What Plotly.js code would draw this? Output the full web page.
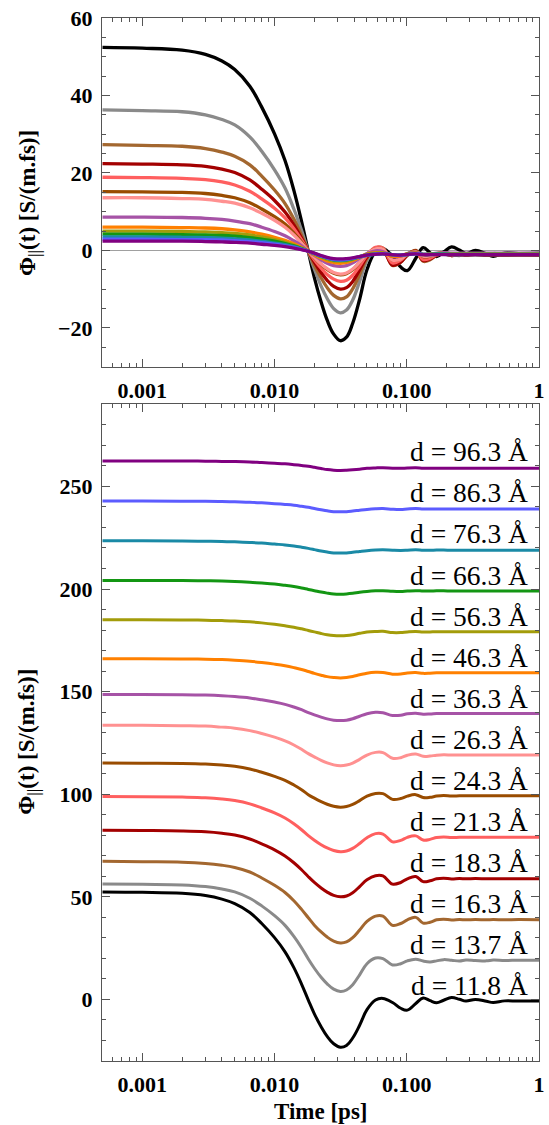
<!DOCTYPE html>
<html>
<head>
<meta charset="utf-8">
<script src="https://cdn.plot.ly/plotly-3.0.1.min.js"></script>
<style>html,body{margin:0;padding:0;background:#fff;}#chart{width:549px;height:1125px;}</style>
</head>
<body>
<div id="chart"></div>
<script>
// Time axis (ps)
const time = [0.0005, 0.001, 0.002, 0.003, 0.004, 0.005, 0.0065, 0.008, 0.010, 0.012, 0.014, 0.016, 0.018, 0.020, 0.0225, 0.025, 0.028, 0.0315, 0.035, 0.039, 0.044, 0.050, 0.058, 0.066, 0.078, 0.090, 0.101, 0.117, 0.133, 0.150, 0.168, 0.190, 0.218, 0.250, 0.280, 0.330, 0.400, 0.450, 0.550, 0.700, 1.0];

// Separation labels (Å)
const dLabels = ['11.8', '13.7', '16.3', '18.3', '21.3', '24.3', '26.3', '36.3', '46.3', '56.3', '66.3', '76.3', '86.3', '96.3'];

// Vertical offsets used in the lower panel
const offsets = [0, 20, 40, 60, 80, 100, 120, 140, 160, 180, 200, 220, 240, 260];

// Phi_parallel(t) [S/(m.fs)] for each separation
const phi_11_8 = [52.4, 52.2, 51.7, 50.6, 48.9, 46.7, 42.4, 37.0, 30.1, 23.2, 15.5, 7.5, -0.3, -7.0, -13.3, -18.0, -21.6, -23.3, -22.4, -18.8, -12.6, -5.0, -0.3, 0.5, -1.5, -4.3, -5.2, -2.0, 0.7, -0.6, -1.6, -0.4, 0.9, 0.1, -0.8, 0.0, -0.9, -1.5, -0.7, -0.8, -0.7];
const phi_13_7 = [36.3, 36.1, 35.8, 35.0, 33.8, 32.4, 29.3, 25.6, 20.8, 16.1, 10.7, 5.2, -0.3, -4.8, -9.2, -12.4, -15.0, -16.1, -15.4, -12.8, -8.0, -2.6, 0.2, -0.1, -3.2, -2.6, -1.2, -0.4, -1.3, -1.7, -1.2, -0.6, -0.9, -1.3, -0.8, -1.0, -1.2, -0.8, -1.0, -0.9, -0.9];
const phi_16_3 = [27.3, 27.1, 26.9, 26.3, 25.4, 24.3, 22.1, 19.2, 15.6, 12.1, 8.1, 3.9, -0.2, -3.8, -7.1, -9.6, -11.6, -12.5, -12.0, -9.9, -6.2, -2.0, 0.6, 0.6, -3.9, -3.0, -1.2, 0.0, -2.8, -2.4, -1.2, -0.9, -1.3, -1.1, -1.2, -1.1, -1.2, -1.1, -1.2, -1.1, -1.2];
const phi_18_3 = [22.4, 22.3, 22.1, 21.7, 21.0, 20.1, 18.2, 15.8, 12.9, 9.9, 6.6, 3.2, -0.2, -3.0, -5.7, -7.7, -9.3, -10.0, -9.6, -8.0, -5.0, -1.7, 0.3, 0.2, -3.8, -3.0, -1.2, -0.1, -2.6, -2.2, -1.2, -0.9, -1.3, -1.1, -1.2, -1.1, -1.2, -1.2, -1.2, -1.2, -1.2];
const phi_21_3 = [18.9, 18.8, 18.6, 18.3, 17.7, 16.9, 15.3, 13.3, 10.9, 8.4, 5.6, 2.7, -0.2, -2.4, -4.6, -6.2, -7.4, -8.0, -7.7, -6.4, -4.0, -1.2, 0.8, 0.6, -3.2, -2.5, -1.0, -0.3, -2.3, -2.0, -1.1, -0.8, -1.1, -1.0, -1.0, -1.0, -1.0, -1.0, -1.0, -1.0, -1.0];
const phi_24_3 = [15.2, 15.1, 15.0, 14.7, 14.2, 13.6, 12.3, 10.7, 8.7, 6.8, 4.5, 2.2, -0.2, -1.9, -3.6, -4.9, -5.9, -6.3, -6.0, -5.0, -3.1, -0.9, 0.4, 0.3, -2.5, -2.1, -0.9, -0.2, -1.6, -1.5, -0.9, -0.6, -0.9, -0.8, -0.8, -0.8, -0.8, -0.8, -0.8, -0.8, -0.8];
const phi_26_3 = [13.6, 13.6, 13.4, 13.2, 12.7, 12.2, 11.0, 9.6, 7.8, 6.0, 4.0, 1.9, -0.2, -1.8, -3.5, -4.7, -5.7, -6.1, -5.8, -4.8, -3.0, -0.9, 0.4, 0.3, -2.5, -2.2, -1.0, -0.4, -1.5, -1.4, -1.0, -0.8, -0.9, -0.9, -0.9, -0.9, -0.9, -0.9, -0.9, -0.9, -0.9];
const phi_36_3 = [8.6, 8.6, 8.5, 8.3, 8.0, 7.6, 6.9, 6.0, 4.9, 3.8, 2.5, 1.2, -0.2, -1.3, -2.4, -3.3, -3.9, -4.1, -3.9, -3.2, -2.0, -0.8, -0.1, -0.3, -1.6, -1.5, -0.8, -0.5, -1.0, -0.9, -0.7, -0.6, -0.7, -0.7, -0.7, -0.7, -0.7, -0.7, -0.7, -0.7, -0.7];
const phi_46_3 = [6.0, 6.0, 5.9, 5.8, 5.6, 5.3, 4.8, 4.2, 3.4, 2.6, 1.7, 0.8, -0.2, -1.1, -2.0, -2.7, -3.1, -3.3, -3.1, -2.6, -1.8, -1.0, -0.6, -0.7, -1.5, -1.4, -0.9, -0.7, -1.1, -1.0, -0.8, -0.8, -0.8, -0.8, -0.8, -0.8, -0.8, -0.8, -0.8, -0.8, -0.8];
const phi_56_3 = [5.0, 5.0, 4.9, 4.8, 4.6, 4.4, 4.0, 3.5, 2.8, 2.1, 1.4, 0.6, -0.2, -0.9, -1.7, -2.3, -2.7, -2.8, -2.7, -2.3, -1.6, -1.0, -0.7, -0.6, -1.2, -1.2, -0.9, -0.7, -1.0, -0.9, -0.8, -0.8, -0.8, -0.8, -0.8, -0.8, -0.8, -0.8, -0.8, -0.8, -0.8];
const phi_66_3 = [4.2, 4.2, 4.1, 4.0, 3.9, 3.7, 3.3, 2.9, 2.4, 1.8, 1.2, 0.5, -0.2, -0.8, -1.5, -2.0, -2.4, -2.5, -2.4, -2.1, -1.6, -1.2, -0.9, -0.8, -1.1, -1.2, -1.0, -0.8, -1.0, -1.0, -0.9, -0.9, -1.0, -1.0, -1.0, -1.0, -1.0, -1.0, -1.0, -1.0, -1.0];
const phi_76_3 = [3.5, 3.5, 3.4, 3.3, 3.2, 3.0, 2.7, 2.4, 1.9, 1.5, 1.0, 0.4, -0.2, -0.8, -1.5, -2.0, -2.4, -2.5, -2.4, -2.1, -1.7, -1.3, -1.0, -0.9, -1.1, -1.2, -1.1, -0.9, -1.1, -1.1, -1.0, -1.0, -1.1, -1.1, -1.1, -1.1, -1.1, -1.1, -1.1, -1.1, -1.1];
const phi_86_3 = [2.9, 2.9, 2.8, 2.8, 2.7, 2.5, 2.3, 2.0, 1.6, 1.2, 0.8, 0.3, -0.2, -0.8, -1.4, -1.9, -2.3, -2.4, -2.3, -2.0, -1.6, -1.2, -0.9, -0.8, -1.1, -1.2, -1.0, -0.8, -1.0, -1.0, -1.0, -1.0, -1.0, -1.0, -1.0, -1.0, -1.0, -1.0, -1.0, -1.0, -1.0];
const phi_96_3 = [2.4, 2.4, 2.4, 2.3, 2.2, 2.1, 1.9, 1.6, 1.3, 1.0, 0.6, 0.2, -0.2, -0.7, -1.3, -1.8, -2.1, -2.2, -2.1, -1.9, -1.6, -1.2, -1.0, -0.9, -1.1, -1.2, -1.0, -0.9, -1.1, -1.1, -1.1, -1.1, -1.1, -1.1, -1.1, -1.1, -1.1, -1.1, -1.1, -1.1, -1.1];

const series = [phi_11_8, phi_13_7, phi_16_3, phi_18_3, phi_21_3, phi_24_3, phi_26_3, phi_36_3, phi_46_3, phi_56_3, phi_66_3, phi_76_3, phi_86_3, phi_96_3];

// Tick labels
const xTickVals = [0.001, 0.01, 0.1, 1];
const xTickText = ['0.001', '0.010', '0.100', '1'];
const yTopTickVals = [-20, 0, 20, 40, 60];
const yTopTickText = ['\u221220', '0', '20', '40', '60'];
const yBotTickVals = [0, 50, 100, 150, 200, 250];
const yBotTickText = ['0', '50', '100', '150', '200', '250'];

// Styles
const lineColors = ['#000000', '#8a8a8a', '#a3672f', '#a30000', '#ff5f5f', '#994c00', '#ff9191', '#a653a6', '#ff8000', '#a39c0a', '#139613', '#1a8aa6', '#5c5cff', '#800080'];
const FONT = 'Liberation Serif, Times New Roman, serif';

const xMinor = [];
[0.0001, 0.001, 0.01, 0.1].forEach(dec => { for (let k = 2; k <= 9; k++) xMinor.push(+(k * dec).toPrecision(3)); });

const traces = [];
series.forEach((s, i) => {
  traces.push({x: time, y: s, xaxis: 'x2', yaxis: 'y2', type: 'scatter', mode: 'lines',
    line: {color: lineColors[i], width: 3.3, shape: 'spline', smoothing: 1.1}, hoverinfo: 'skip'});
});
series.forEach((s, i) => {
  traces.push({x: time, y: s.map(v => v + offsets[i]), xaxis: 'x', yaxis: 'y', type: 'scatter', mode: 'lines',
    line: {color: lineColors[i], width: 3, shape: 'spline', smoothing: 1.1}, hoverinfo: 'skip'});
});

const axisBase = {
  showline: true, linecolor: '#555', linewidth: 1, mirror: 'allticks',
  ticks: 'inside', ticklen: 8, tickwidth: 1, tickcolor: '#555',
  showgrid: false, zeroline: false,
  tickfont: {family: FONT, size: 22, color: '#000', weight: 'bold'}
};

const xCommon = Object.assign({}, axisBase, {
  type: 'log', range: [-3.305, 0], tickmode: 'array', tickvals: xTickVals, ticktext: xTickText,
  minor: {tickmode: 'array', tickvals: xMinor, ticklen: 4, tickcolor: '#555', ticks: 'inside'},
  ticklabelstandoff: 4
});

const annotations = [];
dLabels.forEach((d, i) => {
  annotations.push({xref: 'x', yref: 'y', x: 0, y: offsets[i], xanchor: 'right', yanchor: 'bottom',
    xshift: -9, yshift: -3.5, showarrow: false, text: 'd = ' + d + ' \u00c5',
    font: {family: FONT, size: 27.5, color: '#000'}});
});
const yTitle = '\u03a6<sub>||</sub>(t) [S/(m.fs)]';
annotations.push({xref: 'paper', yref: 'paper', x: -0.167, y: 0.8226, xanchor: 'center', yanchor: 'middle',
  textangle: -90, showarrow: false, text: yTitle, font: {family: FONT, size: 23, color: '#000', weight: 'bold'}});
annotations.push({xref: 'paper', yref: 'paper', x: -0.167, y: 0.306, xanchor: 'center', yanchor: 'middle',
  textangle: -90, showarrow: false, text: yTitle, font: {family: FONT, size: 23, color: '#000', weight: 'bold'}});
annotations.push({xref: 'paper', yref: 'paper', x: 0.5, y: -0.0486, xanchor: 'center', yanchor: 'middle',
  showarrow: false, text: 'Time [ps]', font: {family: FONT, size: 23, color: '#000', weight: 'bold'}});

const layout = {
  width: 549, height: 1125,
  margin: {l: 102, r: 10, t: 18, b: 64},
  showlegend: false,
  paper_bgcolor: '#fff', plot_bgcolor: '#fff',
  font: {family: FONT, color: '#000'},
  xaxis: Object.assign({}, xCommon, {domain: [0, 1], anchor: 'y'}),
  xaxis2: Object.assign({}, xCommon, {domain: [0, 1], anchor: 'y2'}),
  yaxis: Object.assign({}, axisBase, {domain: [0, 0.6296], anchor: 'x', range: [-30, 290],
    tickmode: 'array', tickvals: yBotTickVals, ticktext: yBotTickText, ticklabelstandoff: 4,
    minor: {dtick: 10, ticklen: 4, tickcolor: '#555', ticks: 'inside'}}),
  yaxis2: Object.assign({}, axisBase, {domain: [0.6657, 1], anchor: 'x2', range: [-30, 60],
    tickmode: 'array', tickvals: yTopTickVals, ticktext: yTopTickText, ticklabelstandoff: 4,
    zeroline: true, zerolinecolor: '#a0a0a0', zerolinewidth: 1,
    minor: {dtick: 5, ticklen: 4, tickcolor: '#555', ticks: 'inside'}}),
  annotations: annotations
};

Plotly.newPlot('chart', traces, layout, {staticPlot: true, displayModeBar: false});
</script>
</body>
</html>
